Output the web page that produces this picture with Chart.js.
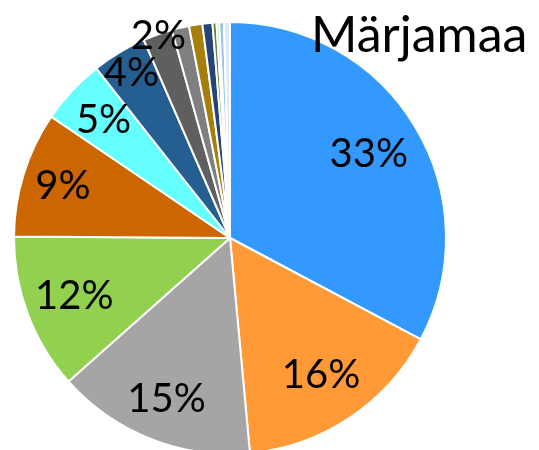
<!DOCTYPE html>
<html>
<head>
<meta charset="utf-8">
<script src="https://cdn.jsdelivr.net/npm/chart.js@4.4.1/dist/chart.umd.min.js"></script>
<style>
  html, body { margin: 0; padding: 0; background: #ffffff; overflow: hidden; }
  #wrap { width: 539px; height: 450px; overflow: hidden; position: relative; }
</style>
</head>
<body>
<div id="wrap"><canvas id="c" width="539" height="460"></canvas></div>
<script>
// ---- data ----
const chartTitle = "Märjamaa";
const categories = ["A", "B", "C", "D", "E", "F", "G", "H", "I", "J", "K", "L", "M", "N", "O"];
const values = [32.85, 15.8, 14.95, 11.7, 9.4, 4.9, 4.1, 2.2, 1.3, 1.0, 0.75, 0.3, 0.2, 0.35, 0.45];
const sliceColors = ["#3399FF", "#FF9A36", "#A5A5A5", "#92D050", "#CC6600", "#66FFFF", "#255E91",
  "#5F5F5F", "#7F7F7F", "#A67F0A", "#264478", "#5E8A3A", "#A9C98E", "#9DC3E6", "#DDEBF7"];
// label placement (style): fraction of radius for each labelled slice
const labelRadius = [0.75, 0.76, 0.80, 0.77, 0.81, 0.80, 0.89, 0.99];
const minLabelPct = 1.5;

const total = values.reduce((a, b) => a + b, 0);

const labelPlugin = {
  id: 'pctLabels',
  afterDatasetsDraw(chart) {
    const ctx = chart.ctx;
    const meta = chart.getDatasetMeta(0);
    ctx.save();
    ctx.font = '40px Lato, "Open Sans", sans-serif';
    ctx.fillStyle = '#000000';
    ctx.textAlign = 'center';
    ctx.textBaseline = 'middle';
    meta.data.forEach((arc, i) => {
      const pct = values[i] / total * 100;
      if (pct < minLabelPct) return;
      const p = arc.getProps(['x', 'y', 'startAngle', 'endAngle', 'outerRadius'], true);
      const mid = (p.startAngle + p.endAngle) / 2;
      const r = p.outerRadius * (labelRadius[i] || 0.75);
      ctx.fillText(Math.round(pct) + '%', p.x + Math.cos(mid) * r, p.y + Math.sin(mid) * r);
    });
    ctx.restore();
  }
};

const titlePlugin = {
  id: 'cornerTitle',
  afterDraw(chart) {
    const ctx = chart.ctx;
    ctx.save();
    ctx.font = '50px Lato, "Open Sans", sans-serif';
    ctx.fillStyle = '#000000';
    ctx.textAlign = 'left';
    ctx.textBaseline = 'alphabetic';
    ctx.fillText(chartTitle, 311, 52);
    ctx.restore();
  }
};

new Chart(document.getElementById('c'), {
  type: 'pie',
  data: {
    labels: categories,
    datasets: [{
      data: values,
      backgroundColor: sliceColors,
      borderColor: '#ffffff',
      borderWidth: 2
    }]
  },
  options: {
    responsive: false,
    animation: false,
    layout: { padding: { left: 13, top: 21, right: 92, bottom: 5 } },
    plugins: {
      legend: { display: false },
      title: { display: false },
      tooltip: { enabled: false }
    }
  },
  plugins: [labelPlugin, titlePlugin]
});
</script>
</body>
</html>
